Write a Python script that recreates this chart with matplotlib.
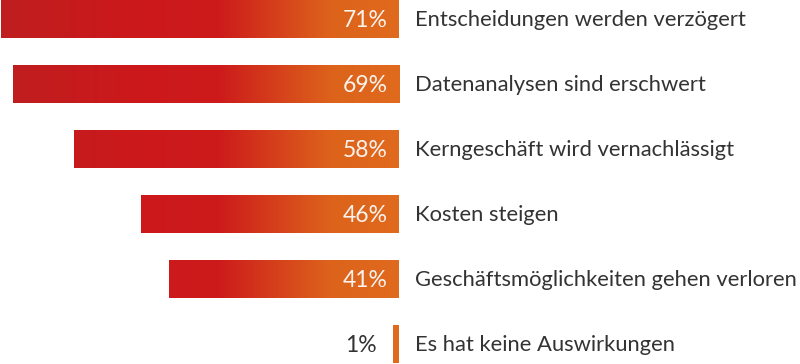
import numpy as np
import matplotlib.pyplot as plt
from matplotlib.colors import LinearSegmentedColormap

categories = [
    'Entscheidungen werden verzögert',
    'Datenanalysen sind erschwert',
    'Kerngeschäft wird vernachlässigt',
    'Kosten steigen',
    'Geschäftsmöglichkeiten gehen verloren',
    'Es hat keine Auswirkungen',
]
values = [71, 69, 58, 46, 41, 1]
value_labels = ['71%', '69%', '58%', '46%', '41%', '1%']

plt.rcParams['font.family'] = ['Lato', 'DejaVu Sans']

fig = plt.figure(figsize=(8, 3.64), dpi=100)
ax = fig.add_axes([0, 0, 1, 1])

ypos = np.arange(len(values))
bars = ax.barh(ypos, [-v for v in values], height=0.585, color='none',
               linewidth=0)

# gradient runs along the x axis: dark red far left, orange near the end
cmap = LinearSegmentedColormap.from_list(
    'redorange',
    [(0.0, '#bf1e20'), (0.35, '#cc181b'), (0.55, '#cd1b1c'),
     (0.83, '#dd631b'), (1.0, '#e06a1e')])
grad = np.linspace(0, 1, 512).reshape(1, -1)

for bar, lab, v in zip(bars, value_labels, values):
    y0 = bar.get_y()
    y1 = y0 + bar.get_height()
    im = ax.imshow(grad, cmap=cmap, aspect='auto', extent=[-71.25, 0, y1, y0],
                   interpolation='bicubic')
    im.set_clip_path(bar)
    yc = y0 + bar.get_height() / 2
    if v > 5:
        ax.text(-2, yc + 0.02, lab, ha='right', va='center', color='#fbf3ee',
                fontsize=16.5)
    else:
        ax.text(-v - 3, yc + 0.02, lab, ha='right', va='center',
                color='#333333', fontsize=16.5)

for y, c in zip(ypos, categories):
    ax.text(2.8, y + 0.02, c, ha='left', va='center', color='#333333',
            fontsize=15.8)

ax.set_xlim(-71.25, 71.6)
ax.set_ylim(5.308, -0.292)
ax.axis('off')

fig.savefig('out.png', dpi=100)
